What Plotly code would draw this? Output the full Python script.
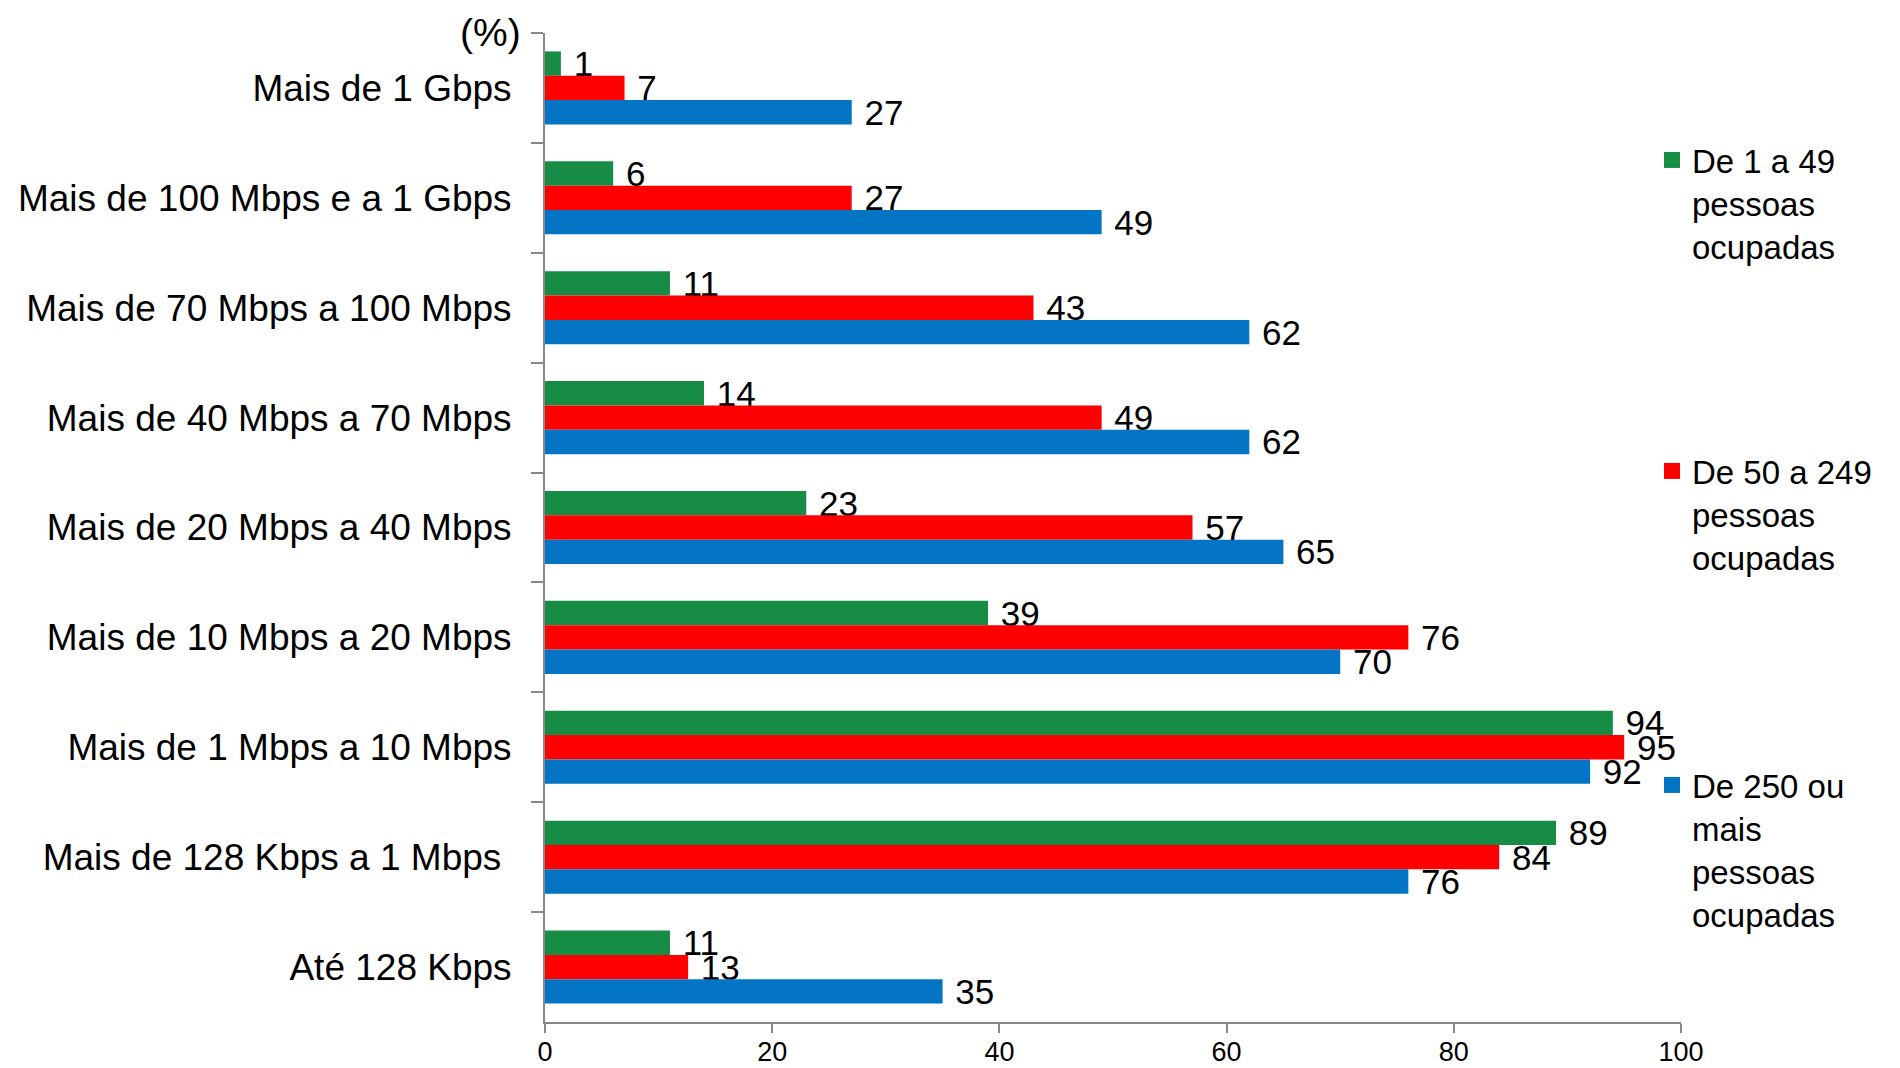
import plotly.graph_objects as go

categories = [
    "Mais de 1 Gbps",
    "Mais de 100 Mbps e a 1 Gbps",
    "Mais de 70 Mbps a 100 Mbps",
    "Mais de 40 Mbps a 70 Mbps",
    "Mais de 20 Mbps a 40 Mbps",
    "Mais de 10 Mbps a 20 Mbps",
    "Mais de 1 Mbps a 10 Mbps",
    "Mais de 128 Kbps a 1 Mbps\u00a0",
    "Até 128 Kbps",
]
small = [1.4, 6, 11, 14, 23, 39, 94, 89, 11]
medium = [7, 27, 43, 49, 57, 76, 95, 84, 12.6]
large = [27, 49, 62, 62, 65, 70, 92, 76, 35]

series_names = [
    "De 1 a 49<br>pessoas<br>ocupadas",
    "De 50 a 249<br>pessoas<br>ocupadas",
    "De 250 ou<br>mais<br>pessoas<br>ocupadas",
]
series_values = [small, medium, large]
colors = ["#168C44", "#FF0000", "#0474C4"]
legend_ids = ["legend", "legend2", "legend3"]

FONT = "Arial, Liberation Sans, sans-serif"

fig = go.Figure()
for name, vals, col in zip(series_names, series_values, colors):
    fig.add_trace(go.Bar(
        y=categories, x=vals, orientation="h", name=name,
        marker=dict(color=col, line=dict(width=0)),
        texttemplate="\u00a0%{x:.0f}", textposition="outside",
        textfont=dict(family=FONT, size=35, color="#000000"),
        constraintext="none", cliponaxis=False, showlegend=False,
    ))

# legend proxies (larger square symbols)
for name, col, lg in zip(series_names, colors, legend_ids):
    fig.add_trace(go.Scatter(
        x=[None], y=[None], mode="markers", name=name,
        marker=dict(symbol="square", size=18, color=col),
        legend=lg, showlegend=True,
    ))

# page offset of the figure (body margin)
OFF = 8
W, H = 1900 - OFF, 1068 - OFF
PL, PR, PT, PB = 545, 1681, 33, 1022  # plot area in page pixels
L, T = PL - OFF, PT - OFF
R, B = W - (PR - OFF), H - (PB - OFF)
pw, ph = W - L - R, H - T - B

def px_x(x):
    return (x - PL) / pw

def px_y(y):
    return (PB - y) / ph

legend_common = dict(
    font=dict(family=FONT, size=33, color="#000000"),
    bgcolor="rgba(0,0,0,0)", valign="top",
    xanchor="left", yanchor="top", x=px_x(1652),
)

fig.update_layout(
    width=W, height=H, autosize=False,
    margin=dict(l=L, r=R, t=T, b=B, pad=0, autoexpand=False),
    paper_bgcolor="white", plot_bgcolor="white",
    barmode="group", bargap=0.335, bargroupgap=0,
    font=dict(family=FONT, color="#000000"),
    legend=dict(**legend_common, y=px_y(132)),
    legend2=dict(**legend_common, y=px_y(443)),
    legend3=dict(**legend_common, y=px_y(757)),
    xaxis=dict(
        range=[0, 100], tickvals=[0, 20, 40, 60, 80, 100],
        showgrid=False, zeroline=False, automargin=False,
        showline=True, linecolor="#898989", linewidth=2,
        ticks="outside", ticklen=9, tickwidth=1.5, tickcolor="#898989",
        ticklabelstandoff=-4,
        tickfont=dict(family=FONT, size=27, color="#000000"),
    ),
    yaxis=dict(
        categoryorder="array", categoryarray=categories,
        autorange="reversed", automargin=False,
        showgrid=False, zeroline=False,
        showline=True, linecolor="#898989", linewidth=2,
        ticks="outside", ticklen=12, tickwidth=1.5, tickcolor="#898989",
        tickson="boundaries", ticklabelstandoff=24,
        tickfont=dict(family=FONT, size=37, color="#000000"),
    ),
    annotations=[dict(
        text="(%)", xref="paper", yref="paper",
        x=px_x(523), y=px_y(32), xanchor="right", yanchor="middle",
        showarrow=False, font=dict(family=FONT, size=39, color="#000000"),
    )],
)

fig.write_html("out.html")
